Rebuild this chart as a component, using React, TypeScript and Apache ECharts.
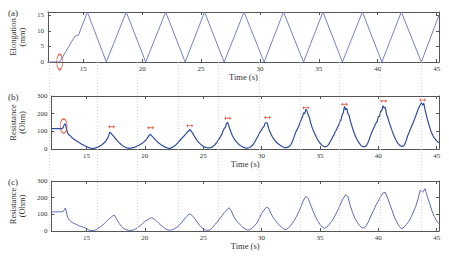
import React, { useEffect, useRef } from "react";
import * as echarts from "echarts";

const TIME_MIN = 12;
const TIME_MAX = 45.2;
const timeTicks = [15, 20, 25, 30, 35, 40, 45];

// (a) elongation, triangle wave: corner times (s) and elongation (mm)
const elongationTime = [12, 13, 14.3, 14.6, 15.35, 16.96, 18.65, 20.3, 22.0, 23.65, 25.3, 26.96, 28.65, 30.35, 32.0, 33.7, 35.35, 37.0, 38.7, 40.35, 42.0, 43.7, 45.2];
const elongationValue = [0, 0, 8.3, 8.6, 16, 0, 16, 0, 16, 0, 16, 0, 16, 0, 16, 0, 16, 0, 16, 0, 16, 0, 15];

// (b) raw resistance (Ohm), sampled every 0.1 s from 12.0 s
const STEP_B = 0.1;
const resistanceB = [
  115, 115, 115, 115, 115, 115, 115, 116, 115, 115,
  120, 138, 143, 112, 90, 82, 76, 68, 62, 57,
  52, 48, 44, 40, 35, 31, 27, 24, 20, 17,
  14, 11, 8, 6, 4, 3, 4, 5, 7, 9,
  12, 15, 19, 23, 28, 34, 41, 49, 60, 74,
  95, 90, 82, 74, 66, 58, 50, 43, 36, 30,
  24, 19, 15, 11, 8, 6, 5, 4, 5, 6,
  8, 10, 12, 15, 18, 21, 25, 29, 34, 39,
  45, 52, 60, 70, 80, 82, 74, 67, 60, 53,
  46, 40, 34, 29, 24, 20, 16, 12, 9, 7,
  5, 4, 5, 8, 11, 15, 20, 26, 33, 40,
  48, 55, 63, 69, 77, 84, 93, 99, 105, 110,
  98, 90, 78, 66, 56, 47, 39, 32, 26, 21,
  16, 12, 9, 7, 6, 6, 7, 9, 13, 18,
  24, 32, 40, 50, 60, 72, 84, 102, 116, 122,
  146, 150, 130, 110, 92, 76, 64, 53, 44, 36,
  30, 24, 19, 15, 11, 8, 6, 5, 5, 7,
  10, 14, 20, 28, 38, 50, 62, 74, 86, 100,
  106, 122, 126, 145, 150, 146, 118, 100, 86, 72,
  62, 52, 44, 37, 31, 26, 21, 17, 13, 10,
  8, 8, 9, 12, 16, 24, 36, 52, 70, 90,
  104, 118, 132, 148, 170, 180, 205, 200, 226, 214,
  192, 178, 150, 128, 110, 95, 80, 66, 54, 43,
  34, 26, 20, 15, 13, 13, 16, 22, 32, 44,
  56, 70, 78, 96, 106, 122, 134, 154, 163, 192,
  205, 242, 222, 230, 200, 190, 160, 138, 117, 98,
  80, 64, 51, 40, 30, 22, 16, 13, 13, 15,
  22, 34, 50, 70, 88, 104, 118, 132, 146, 155,
  182, 186, 212, 218, 245, 232, 236, 198, 180, 158,
  138, 118, 100, 82, 66, 52, 40, 30, 23, 18,
  15, 15, 20, 32, 50, 72, 88, 104, 120, 136,
  152, 168, 186, 204, 222, 238, 250, 262, 248, 258,
  224, 196, 170, 146, 124, 104, 88, 74, 62, 54,
  46, 40, 35,
];

// (c) filtered resistance (Ohm), sampled every 0.2 s from 12.0 s
const STEP_C = 0.2;
const resistanceC = [
  115, 115, 115, 115, 115,
  117, 138, 80, 62, 50,
  44, 36, 30, 26, 22,
  14, 6, 3, 3, 6,
  16, 25, 36, 50, 64,
  76, 88, 95, 70, 46,
  28, 14, 8, 4, 3,
  6, 12, 22, 32, 44,
  56, 66, 74, 80, 72,
  60, 46, 34, 22, 12,
  6, 5, 8, 16, 26,
  38, 54, 72, 88, 102,
  96, 82, 62, 42, 26,
  14, 6, 3, 8, 20,
  38, 54, 72, 90, 110,
  124, 140, 122, 90, 66,
  50, 36, 22, 12, 6,
  8, 18, 32, 48, 74,
  104, 124, 142, 138, 106,
  80, 62, 44, 30, 18,
  7, 12, 26, 44, 62,
  88, 118, 150, 186, 208,
  194, 158, 122, 88, 62,
  40, 24, 16, 24, 40,
  56, 80, 106, 134, 168,
  196, 218, 206, 152, 110,
  76, 52, 32, 20, 18,
  36, 62, 96, 124, 156,
  180, 206, 228, 232, 198,
  158, 120, 80, 52, 28,
  12, 22, 38, 56, 82,
  114, 146, 192, 246, 232,
  254, 206, 166, 120, 86,
  60, 44,
];

// peak markers (double arrows) over the raw resistance peaks
const arrowTime = [17.15, 20.5, 23.85, 27.1, 30.5, 33.8, 37.1, 40.45, 43.8];
const arrowValue = [126, 120, 132, 174, 179, 234, 253, 272, 277];

// start-of-stretch highlights
const startMarkA: [number, number] = [13, 0];
const startMarkB: [number, number] = [13.05, 130];

// guide lines at each minimum of elongation
const guideTimes = [13, 16.96, 20.3, 23.65, 26.96, 30.35, 33.7, 37.0, 40.35, 43.7];

const FONT = "Liberation Serif";
const AXIS_COLOR = "#555";
const TEXT_COLOR = "#333";
const RED = "#e2321f";
const ARROW_PATH = "path://M0,4 L4,0 L4,3 L12,3 L12,0 L16,4 L12,8 L12,5 L4,5 L4,8 Z";

function bottomX(gridIndex: number) {
  return {
    type: "value",
    gridIndex,
    position: "bottom",
    min: TIME_MIN,
    max: TIME_MAX,
    axisLine: { show: true, onZero: false, lineStyle: { color: AXIS_COLOR, width: 1 } },
    axisTick: { show: true, inside: true, length: 3, customValues: timeTicks, lineStyle: { color: AXIS_COLOR } },
    axisLabel: { customValues: timeTicks, fontSize: 7, fontFamily: FONT, color: TEXT_COLOR, margin: 3 },
    splitLine: { show: false },
    name: "Time (s)",
    nameLocation: "middle",
    nameGap: 10,
    nameTextStyle: { fontSize: 8.5, fontFamily: FONT, color: TEXT_COLOR },
  };
}

function topX(gridIndex: number) {
  return {
    type: "value",
    gridIndex,
    position: "top",
    min: TIME_MIN,
    max: TIME_MAX,
    axisLine: { show: true, onZero: false, lineStyle: { color: AXIS_COLOR, width: 1 } },
    axisTick: { show: true, inside: true, length: 3, customValues: timeTicks, lineStyle: { color: AXIS_COLOR } },
    axisLabel: { show: false },
    splitLine: { show: false },
  };
}

function leftY(gridIndex: number, max: number, interval: number, name: string) {
  return {
    type: "value",
    gridIndex,
    position: "left",
    min: 0,
    max,
    interval,
    axisLine: { show: true, onZero: false, lineStyle: { color: AXIS_COLOR, width: 1 } },
    axisTick: { show: true, inside: true, length: 3, lineStyle: { color: AXIS_COLOR } },
    axisLabel: { fontSize: 7, fontFamily: FONT, color: TEXT_COLOR, margin: 4, showMaxLabel: max % interval === 0 },
    splitLine: { show: false },
    name,
    nameLocation: "middle",
    nameGap: 13,
    nameTextStyle: { fontSize: 8.5, fontFamily: FONT, color: TEXT_COLOR, lineHeight: 9 },
  };
}

function rightY(gridIndex: number, max: number, interval: number) {
  return {
    type: "value",
    gridIndex,
    position: "right",
    min: 0,
    max,
    interval,
    axisLine: { show: true, onZero: false, lineStyle: { color: AXIS_COLOR, width: 1 } },
    axisTick: { show: true, inside: true, length: 3, lineStyle: { color: AXIS_COLOR } },
    axisLabel: { show: false },
    splitLine: { show: false },
  };
}

export default function App() {
  const ref = useRef<HTMLDivElement>(null);

  useEffect(() => {
    if (!ref.current) return;
    const chart = echarts.init(ref.current, null, { renderer: "svg" });

    const elongation = elongationTime.map((t, i) => [t, elongationValue[i]]);
    const rawB = resistanceB.map((v, i) => [TIME_MIN + i * STEP_B, v]);
    const filtC = resistanceC.map((v, i) => [TIME_MIN + i * STEP_C, v]);
    const arrows = arrowTime.map((t, i) => [t, arrowValue[i]]);

    const ellipseStyle = { color: "rgba(0,0,0,0)", borderColor: RED, borderWidth: 1 };

    chart.setOption({
      animation: false,
      backgroundColor: "#fff",
      grid: [
        { left: 37, right: 10, top: 12, height: 50 },
        { left: 37, right: 10, top: 96, height: 53 },
        { left: 37, right: 10, top: 181, height: 50 },
        { left: 37, right: 10, top: 62, height: 169 },
      ],
      xAxis: [
        bottomX(0), topX(0),
        bottomX(1), topX(1),
        bottomX(2), topX(2),
        { type: "value", gridIndex: 3, min: TIME_MIN, max: TIME_MAX, show: false },
      ],
      yAxis: [
        leftY(0, 16, 5, "Elongation\n(mm)"), rightY(0, 16, 5),
        leftY(1, 300, 100, "Resistance\n(Ohm)"), rightY(1, 300, 100),
        leftY(2, 300, 100, "Resistance\n(Ohm)"), rightY(2, 300, 100),
        { type: "value", gridIndex: 3, min: 0, max: 1, show: false },
      ],
      graphic: [
        { type: "text", left: 8, top: 8, style: { text: "(a)", font: `9px "${FONT}"`, fill: TEXT_COLOR } },
        { type: "text", left: 8, top: 92, style: { text: "(b)", font: `9px "${FONT}"`, fill: TEXT_COLOR } },
        { type: "text", left: 8, top: 177, style: { text: "(c)", font: `9px "${FONT}"`, fill: TEXT_COLOR } },
      ],
      series: [
        {
          type: "line",
          xAxisIndex: 6,
          yAxisIndex: 6,
          data: [[TIME_MIN, -1]],
          showSymbol: false,
          lineStyle: { width: 0 },
          silent: true,
          z: 1,
          markLine: {
            silent: true,
            symbol: ["none", "none"],
            label: { show: false },
            lineStyle: { type: [1, 2], color: "#cdcdcd", width: 0.8 },
            data: guideTimes.map((t) => ({ xAxis: t })),
          },
        },
        {
          type: "line",
          xAxisIndex: 0,
          yAxisIndex: 0,
          data: elongation,
          showSymbol: false,
          lineStyle: { color: "#7381c8", width: 1 },
          z: 3,
        },
        {
          type: "scatter",
          xAxisIndex: 0,
          yAxisIndex: 0,
          data: [startMarkA],
          symbol: "circle",
          symbolSize: [6, 15],
          itemStyle: ellipseStyle,
          clip: false,
          silent: true,
          z: 4,
        },
        {
          type: "line",
          xAxisIndex: 2,
          yAxisIndex: 2,
          data: rawB,
          showSymbol: false,
          lineStyle: { color: "#2b4c9f", width: 1.2 },
          z: 3,
        },
        {
          type: "scatter",
          xAxisIndex: 2,
          yAxisIndex: 2,
          data: arrows,
          symbol: ARROW_PATH,
          symbolSize: [7, 3.5],
          itemStyle: { color: RED },
          silent: true,
          z: 4,
        },
        {
          type: "scatter",
          xAxisIndex: 2,
          yAxisIndex: 2,
          data: [startMarkB],
          symbol: "circle",
          symbolSize: [7, 14],
          itemStyle: ellipseStyle,
          clip: false,
          silent: true,
          z: 4,
        },
        {
          type: "line",
          xAxisIndex: 4,
          yAxisIndex: 4,
          data: filtC,
          showSymbol: false,
          lineStyle: { color: "#5a6bbb", width: 1 },
          z: 3,
        },
      ],
    });

    return () => chart.dispose();
  }, []);

  return (
    <div
      ref={ref}
      style={{ position: "fixed", left: 0, top: 0, width: 449, height: 256, background: "#fff" }}
    />
  );
}
